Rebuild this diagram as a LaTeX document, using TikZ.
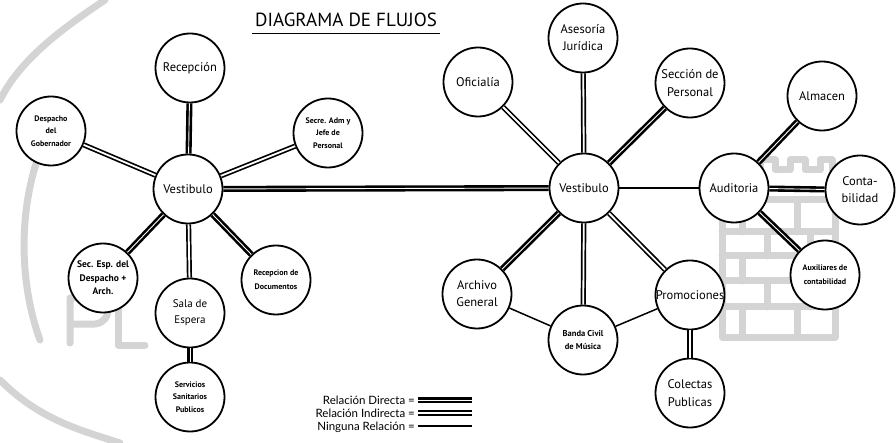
\documentclass[tikz,border=0pt]{standalone}
\usepackage{fontspec}
\setmainfont{PT Sans}
\newfontfamily\legendfont{Lato}
\begin{document}
\begin{tikzpicture}[x=1pt,y=-1pt,
  room/.style={circle, draw=black, line width=1.8pt, fill=white,
    minimum size=69pt, inner sep=0pt, align=center, text=black},
  fbig/.style={font=\fontsize{12.5}{17}\selectfont},
  fmid/.style={font=\bfseries\fontsize{9.5}{13.5}\selectfont},
  fsmall/.style={font=\bfseries\fontsize{8}{12.5}\selectfont},
  directa/.style={draw=black, line width=2.6pt, double=white, double distance=0.9pt},
  indirecta/.style={draw=black, line width=1.7pt, double=white, double distance=1.8pt},
  ninguna/.style={draw=black, line width=1.5pt},
  legend/.style={font=\legendfont\fontsize{11.5}{12}\selectfont, inner sep=0pt, text=black},
  seal/.style={draw=black!17, line width=7pt, line join=round, line cap=round}]

\useasboundingbox (0,0) rectangle (896,443);
\fill[white] (0,0) rectangle (896,443);

% faint seal in the background
\draw[seal] (105,0) .. controls (60,30) and (20,60) .. (0,100);
\draw[seal] (45,140) .. controls (18,200) and (18,280) .. (40,340);
\draw[seal] (0,380) .. controls (40,420) and (80,430) .. (120,443);
% letters P and L
\draw[seal] (70,343) -- (70,298) -- (95,298) .. controls (112,300) and (112,322) .. (95,324) -- (70,324);
\draw[seal] (118,300) -- (118,345) -- (145,345);
% tower with brickwork
\draw[seal] (722,200) rectangle (835,337);
\draw[seal] (760,200) -- (760,160) -- (775,160) -- (775,170) -- (790,170) -- (790,160) -- (805,160) -- (805,170) -- (820,170) -- (820,160) -- (832,160) -- (832,200);
\foreach \yy in {232,256,281,307} \draw[seal] (722,\yy) -- (835,\yy);
\foreach \xx/\ya/\yb in {742/200/232, 797/200/232, 767/232/256, 810/232/256, 742/256/281, 797/256/281, 767/281/307, 810/281/307, 742/307/337, 797/307/337}
  \draw[seal] (\xx,\ya) -- (\xx,\yb);

% title
\node[font=\fontsize{19}{20}\selectfont, anchor=base, inner sep=0pt] (title) at (346,27) {DIAGRAMA DE FLUJOS};
\coordinate (ulA) at (252,33);
\coordinate (ulB) at (440,33);
\draw[line width=0.8pt] (ulA) -- (ulB);

% left cluster
\node[room, fbig]   (vl)     at (188,189) {Vestibulo};
\node[room, fbig]   (rec)    at (190,68)  {Recepción};
\node[room, fsmall] (desp)   at (51,131)  {Despacho\\del\\Gobernador};
\node[room, fsmall] (secre)  at (328,133) {Secre. Adm y\\Jefe de\\Personal};
\node[room, fmid]   (secesp) at (103,278) {Sec. Esp. del\\Despacho +\\Arch.};
\node[room, font=\fontsize{11}{16}\selectfont] (sala) at (190,313) {Sala de\\Espera};
\node[room, fsmall, font=\bfseries\fontsize{8}{14}\selectfont] (recdoc) at (276,280) {Recepcion de\\Documentos};
\node[room, fsmall] (serv)   at (190,397) {Servicios\\Sanitarios\\Publicos};

% right cluster
\node[room, fbig]   (vr)     at (584,188) {Vestibulo};
\node[room, fbig]   (ofi)    at (478,82)  {Oficialía};
\node[room, fbig]   (ases)   at (583,38)  {Asesoría\\Jurídica};
\node[room, fbig, font=\fontsize{12.5}{18}\selectfont] (secp) at (690,83) {Sección de\\Personal};
\node[room, fbig]   (aud)    at (734,188) {Auditoria};
\node[room, fbig]   (alm)    at (822,96)  {Almacen};
\node[room, fbig]   (cont)   at (860,190) {Conta-\\bilidad};
\node[room, fsmall, font=\bfseries\fontsize{8}{14}\selectfont] (aux) at (825,275) {Auxiliares de\\contabilidad};
\node[room, fbig]   (arch)   at (477,294) {Archivo\\General};
\node[room, fsmall, font=\bfseries\fontsize{8.5}{13}\selectfont] (banda) at (583,340) {Banda Civil\\de Música};
\node[room, fbig]   (prom)   at (690,295) {Promociones};
\node[room, fbig, font=\fontsize{12.5}{18}\selectfont] (col) at (690,393) {Colectas\\Publicas};

% relations, left
\draw[directa]   (vl) -- (rec);
\draw[indirecta] (vl) -- (desp);
\draw[indirecta] (vl) -- (secre);
\draw[directa]   (vl) -- (secesp);
\draw[directa]   (vl) -- (recdoc);
\draw[indirecta] (vl) -- (sala);
\draw[directa]   (sala) -- (serv);
\draw[directa]   (vl) -- (vr);

% relations, right
\draw[indirecta] (vr) -- (ofi);
\draw[indirecta] (vr) -- (ases);
\draw[directa]   (vr) -- (secp);
\draw[ninguna]   (vr) -- (aud);
\draw[directa]   (vr) -- (arch);
\draw[indirecta] (vr) -- (banda);
\draw[indirecta] (vr) -- (prom);
\draw[ninguna]   (arch) -- (banda);
\draw[ninguna]   (banda) -- (prom);
\draw[indirecta] (prom) -- (col);
\draw[directa]   (aud) -- (alm);
\draw[directa]   (aud) -- (cont);
\draw[directa]   (aud) -- (aux);

% legend
\node[legend, anchor=base east] (lgd) at (415,404) {Relación Directa =};
\node[legend, anchor=base east] (lgi) at (415,417) {Relación Indirecta =};
\node[legend, anchor=base east] (lgn) at (415,430) {Ninguna Relación =};
\coordinate (lgdA) at (418,400);
\coordinate (lgdB) at (472,400);
\coordinate (lgiA) at (418,413);
\coordinate (lgiB) at (472,413);
\coordinate (lgnA) at (418,426);
\coordinate (lgnB) at (472,426);
\draw[directa]   (lgdA) -- (lgdB);
\draw[indirecta] (lgiA) -- (lgiB);
\draw[ninguna]   (lgnA) -- (lgnB);
\end{tikzpicture}
\end{document}
